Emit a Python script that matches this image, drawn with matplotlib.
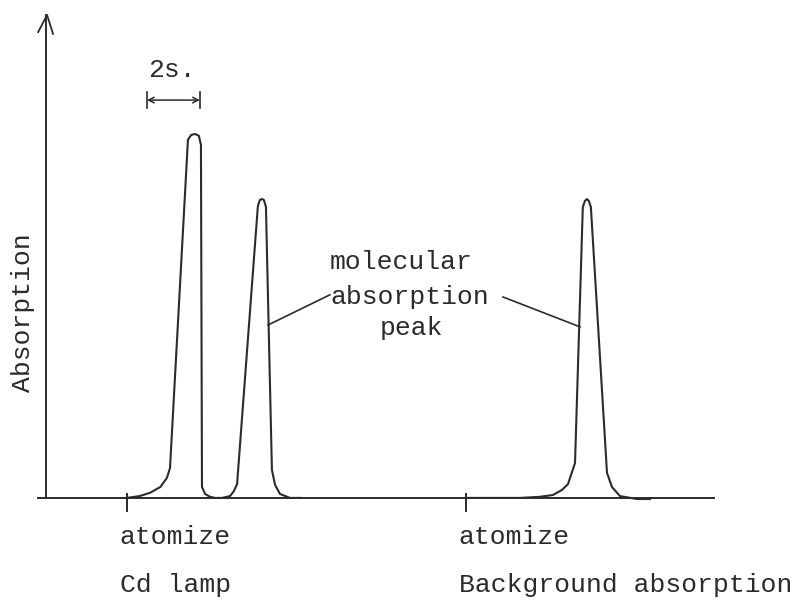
import matplotlib.pyplot as plt

# recorder traces: time (s) and absorption (relative, Cd peak = 1)
cd_time = [3.1, 3.6, 4.0, 4.4, 4.65, 4.77, 5.46, 5.58, 5.73, 5.88, 5.96,
           6.0, 6.12, 6.31, 6.5, 6.77, 7.08, 7.23, 7.35, 8.15, 8.23, 8.31,
           8.38, 8.46, 8.69, 8.81, 9.0, 9.38, 9.77]
cd_abs = [0.0, 0.005, 0.014, 0.03, 0.055, 0.082, 0.984, 0.997, 1.0, 0.995,
          0.97, 0.03, 0.011, 0.003, 0.0, 0.0, 0.005, 0.019, 0.038, 0.802,
          0.819, 0.821, 0.819, 0.8, 0.077, 0.036, 0.011, 0.0, 0.0]

bg_time = [16.15, 18.23, 19.0, 19.5, 19.85, 20.08, 20.35, 20.65, 20.73,
           20.81, 20.88, 20.96, 21.58, 21.77, 22.08, 22.73, 23.23]
bg_abs = [0.0, 0.0, 0.003, 0.008, 0.022, 0.038, 0.096, 0.799, 0.816, 0.821,
          0.816, 0.799, 0.069, 0.03, 0.005, -0.003, -0.003]

atomize_times = [3.1, 16.15]
bottom_labels = ["Cd lamp", "Background absorption"]
scale_bar = (3.88, 5.92)  # 2 s

ink = "#2b2b2b"
mono = "Liberation Mono"
fs = 19

fig = plt.figure(figsize=(8.03, 6.02), dpi=100)
ax = fig.add_axes([0, 0, 1, 1])
ax.set_xlim(-1.77, 29.12)
ax.set_ylim(-0.286, 1.368)
ax.axis("off")

# axes drawn by hand
ax.plot([-0.31, 25.7], [0, 0], color=ink, lw=1.4)
ax.plot([0, 0], [0, 1.327], color=ink, lw=1.4)
ax.plot([-0.3, 0.04, 0.27], [1.28, 1.327, 1.275], color=ink, lw=1.3)

ax.plot(cd_time, cd_abs, color=ink, lw=1.5)
ax.plot(bg_time, bg_abs, color=ink, lw=1.5)

for t, lab in zip(atomize_times, bottom_labels):
    ax.plot([t, t], [0.01, -0.035], color=ink, lw=1.4)
    ax.text(t - 0.27, -0.107, "atomize", fontsize=fs, family=mono, color=ink,
            va="center", ha="left")
    ax.text(t - 0.27, -0.239, lab, fontsize=fs, family=mono, color=ink,
            va="center", ha="left")

# 2 s scale bar
ax.annotate("", xy=(scale_bar[0], 1.093), xytext=(scale_bar[1], 1.093),
            arrowprops=dict(arrowstyle="<->", color=ink, lw=1.1,
                            mutation_scale=10, shrinkA=0, shrinkB=0))
for t in scale_bar:
    ax.plot([t, t], [1.07, 1.116], color=ink, lw=1.2)
ax.text(4.85, 1.176, "2s.", fontsize=fs, family=mono, color=ink,
        ha="center", va="center")

ax.text(-0.88, 0.508, "Absorption", rotation=90, fontsize=fs, family=mono,
        color=ink, ha="center", va="center")

# molecular absorption peak labels
ax.text(10.92, 0.648, "molecular", fontsize=fs, family=mono, color=ink,
        ha="left", va="center")
ax.text(10.92, 0.552, "absorption", fontsize=fs, family=mono, color=ink,
        ha="left", va="center")
ax.text(12.85, 0.467, "peak", fontsize=fs, family=mono, color=ink,
        ha="left", va="center")
ax.plot([8.54, 10.92], [0.475, 0.558], color=ink, lw=1.2)
ax.plot([17.58, 20.54], [0.552, 0.47], color=ink, lw=1.2)

fig.savefig("out.png", dpi=100, facecolor="white")
